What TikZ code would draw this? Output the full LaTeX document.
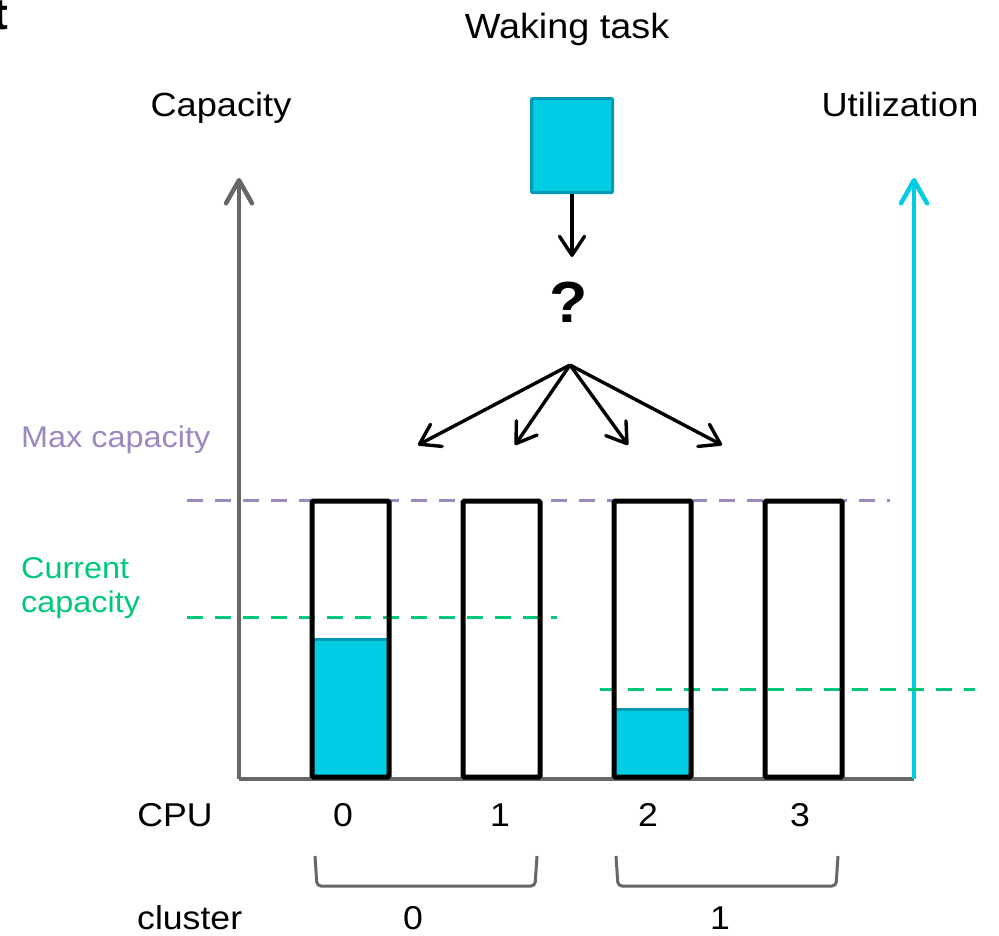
\documentclass[tikz,border=0pt]{standalone}
\usepackage{fontspec}
\setmainfont{Liberation Sans}[FakeStretch=1.08]
\usetikzlibrary{arrows.meta}
\definecolor{tcyan}{RGB}{0,204,227}
\definecolor{tcyandark}{RGB}{0,153,179}
\definecolor{axgray}{RGB}{102,104,104}
\definecolor{maxpurple}{RGB}{155,137,194}
\definecolor{curgreen}{RGB}{0,200,122}
\begin{document}
\begin{tikzpicture}[x=1pt,y=-1pt,
  lbl/.style={inner sep=0pt, anchor=base, font=\fontsize{33}{38}\selectfont},
  biglbl/.style={lbl, font=\fontsize{35}{40}\selectfont},
  sidelbl/.style={inner sep=0pt, anchor=base west, font=\fontsize{30}{34}\selectfont},
  barbox/.style={draw=black, line width=5pt, rounded corners=1.5pt, minimum width=77pt, minimum height=276pt, inner sep=0pt},
  axbarb/.style={-{Straight Barb[length=23pt,width=26pt,line cap=round,line join=round]}},
  blkarr/.style={black, line width=3.4pt, -{Straight Barb[length=19pt,width=25pt,line cap=round,line join=round]}},
  dashmax/.style={maxpurple, line width=3pt, dash pattern=on 16pt off 12pt},
  dashcur/.style={curgreen, line width=3pt, dash pattern=on 16pt off 12pt},
  brack/.style={axgray, line width=3pt, rounded corners=4pt}
]
\useasboundingbox (0,0) rectangle (999,935);
\fill[white] (0,0) rectangle (999,935);

% texts
\node[lbl, font=\bfseries\fontsize{44}{48}\selectfont, anchor=base east] (tee) at (9,29) {t};
\node[biglbl] (waking) at (567,38) {Waking task};
\node[biglbl, font=\fontsize{33.5}{38}\selectfont] (cap) at (221,116) {Capacity};
\node[biglbl, font=\fontsize{33.5}{38}\selectfont] (util) at (900,116) {Utilization};
\node[sidelbl, text=maxpurple] (maxc) at (21,447) {Max capacity};
\node[sidelbl, text=curgreen] (curc1) at (21,578) {Current};
\node[sidelbl, text=curgreen] (curc2) at (21,612) {capacity};

% task and question
\node[draw=tcyandark, fill=tcyan, line width=3pt, minimum width=81pt, minimum height=94pt, inner sep=0pt, rounded corners=1pt] (task) at (572,145.5) {};
\coordinate (qtop) at (572,257);
\draw[blkarr] (task.south) -- (qtop);
\node[inner sep=0pt, anchor=base, font=\bfseries\fontsize{58}{60}\selectfont] (q) at (569,322) {?};
\coordinate (fan) at (570,365);
\coordinate (t0) at (418,445);
\coordinate (t1) at (515,445);
\coordinate (t2) at (628,445);
\coordinate (t3) at (722,445);
\foreach \t in {t0,t1,t2,t3} \draw[blkarr] (fan) -- (\t);

% axes
\coordinate (o) at (239,779);
\coordinate (ytop) at (239,178);
\coordinate (xend) at (914,779);
\coordinate (utop) at (914,178);
\draw[axgray, line width=4.5pt] (o) -- (xend);
\draw[axgray, line width=4.5pt, axbarb] (o) -- (ytop);
\draw[tcyan, line width=4.5pt, axbarb] (xend) -- (utop);

% dashed levels
\coordinate (m0) at (187,500);
\coordinate (m1) at (890,500);
\draw[dashmax] (m0) -- (m1);
\coordinate (c0) at (187,617);
\coordinate (c1) at (557,617);
\draw[dashcur] (c0) -- (c1);
\coordinate (d0) at (600,689);
\coordinate (d1) at (975,689);
\draw[dashcur] (d0) -- (d1);

% fills
\fill[tcyan] (312,638) rectangle (389,777);
\draw[tcyandark, line width=3pt] (312,639.5) -- (389,639.5);
\fill[tcyan] (614,708) rectangle (691,777);
\draw[tcyandark, line width=3pt] (614,709.5) -- (691,709.5);

% bars
\node[barbox] (bar0) at (350.5,639) {};
\node[barbox] (bar1) at (501.5,639) {};
\node[barbox] (bar2) at (652.5,639) {};
\node[barbox] (bar3) at (803.5,639) {};

% CPU labels
\node[lbl] (cpu) at (175,826) {CPU};
\node[lbl] (n0) at (343,826) {0};
\node[lbl] (n1) at (500,826) {1};
\node[lbl] (n2) at (648,826) {2};
\node[lbl] (n3) at (800,826) {3};

% brackets
\draw[brack] (315,856) -- (317,886) -- (535,886) -- (537,856);
\draw[brack] (616,856) -- (618,886) -- (836,886) -- (838,856);

% cluster labels
\node[lbl, anchor=base west] (clu) at (137,929) {cluster};
\node[lbl] (k0) at (413,929) {0};
\node[lbl] (k1) at (720,929) {1};
\end{tikzpicture}
\end{document}
